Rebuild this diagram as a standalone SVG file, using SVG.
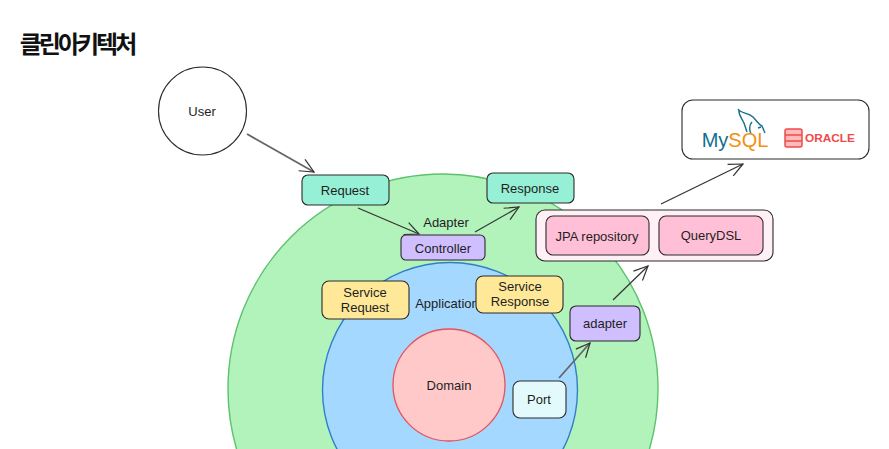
<svg xmlns="http://www.w3.org/2000/svg" width="889" height="449" viewBox="0 0 889 449">
<style>
text{font-family:"Liberation Sans",sans-serif;font-size:13px;fill:#1e1e1e;text-anchor:middle;dominant-baseline:central}
.box{stroke:#2a2a2a;stroke-width:1.1}
.teal{fill:#96f0d6}.purple{fill:#d0bfff}.yellow{fill:#ffe999}.pink{fill:#ffc0d7}
.con{fill:none;stroke:#333;stroke-width:1.2;marker-end:url(#head)}
.dbl{stroke:#666;stroke-width:1.8}
</style>
<defs>
<marker id="head" viewBox="-16 -9 18 18" refX="0" refY="0" markerWidth="18" markerHeight="18" markerUnits="userSpaceOnUse" orient="auto">
<path d="M-14-6.500 0 0-14 6.500" fill="none" stroke="#333" stroke-width="1.2"/>
</marker>
</defs>
<rect width="889" height="449" fill="#fff"/>
<text id="title" x="77" y="42" style="font-family:'Noto Sans CJK KR','Noto Sans',sans-serif;font-size:24px;font-weight:700;letter-spacing:-3px;fill:#111">클린아키텍처</text>
<g id="adapter-layer">
<circle cx="443" cy="389" r="215" fill="#b2f2bb" stroke="#5cc26e" stroke-width="1.4"/>
<text x="446" y="222">Adapter</text>
</g>
<g id="application-layer">
<circle cx="450" cy="390" r="127.500" fill="#a5d8ff" stroke="#2f80c8" stroke-width="1.4"/>
<text x="447" y="303">Application</text>
</g>
<g id="domain">
<circle cx="449" cy="385" r="56" fill="#ffc9c9" stroke="#e8515a" stroke-width="1.3"/>
<text x="449" y="385">Domain</text>
</g>
<g id="user">
<circle cx="202.500" cy="111" r="44" fill="#fff" stroke="#2a2a2a" stroke-width="1.1"/>
<text x="202" y="111">User</text>
</g>
<g id="request">
<rect class="box teal" x="302" y="175" width="87" height="30" rx="6"/>
<text x="345" y="190">Request</text>
</g>
<g id="response">
<rect class="box teal" x="487" y="173" width="87" height="30" rx="6"/>
<text x="530" y="188">Response</text>
</g>
<g id="controller">
<rect class="box purple" x="401" y="235" width="84" height="25" rx="5"/>
<text x="443" y="248">Controller</text>
</g>
<g id="service-request">
<rect class="box yellow" x="322" y="281" width="87" height="38" rx="7"/>
<text x="365" y="292">Service</text>
<text x="365" y="307.500">Request</text>
</g>
<g id="service-response">
<rect class="box yellow" x="476" y="276" width="87" height="37" rx="7"/>
<text x="520" y="286">Service</text>
<text x="520" y="301.500">Response</text>
</g>
<g id="persistence">
<rect class="box" x="536" y="210" width="237" height="51" rx="9" fill="#fff0f5"/>
</g>
<g id="jpa-repository">
<rect class="box pink" x="546" y="216" width="103" height="39" rx="7"/>
<text x="597" y="236">JPA repository</text>
</g>
<g id="querydsl">
<rect class="box pink" x="659" y="216" width="104" height="39" rx="7"/>
<text x="711" y="235">QueryDSL</text>
</g>
<g id="adapter">
<rect class="box purple" x="570" y="306" width="70" height="35" rx="6"/>
<text x="605" y="323">adapter</text>
</g>
<g id="port">
<rect class="box" x="513" y="381" width="53" height="37" rx="7" fill="#e3fafc"/>
<text x="539" y="399">Port</text>
</g>
<g id="database">
<rect class="box" x="682" y="100" width="187" height="59" rx="11" fill="#fff"/>
<path d="M738 109c3 5 10 3 15 8 4 4 5 7 9 9l3 7M739 110c-1 6 5 10 6 16l2 6M752 122c-3 3-3 7-1 12M761 127l-3 1" fill="none" stroke="#14708c" stroke-width="1.4"/>
<text x="735" y="140" style="font-family:'Liberation Sans',sans-serif;font-size:20px;fill:#0f6f8f">My<tspan fill="#f29111">SQL</tspan></text>
<g fill="none" stroke="#ee4b4b" stroke-width="1.5">
<rect x="785" y="129" width="17" height="18" rx="2" fill="#fbb"/>
<path d="M785 135h17M785 141h17"/>
</g>
<text x="830" y="138" textLength="50" lengthAdjust="spacingAndGlyphs" style="font-family:'Liberation Sans',sans-serif;font-size:11px;font-weight:700;fill:#ee4b4b">ORACLE</text>
</g>
<g id="connectors">
<path class="con dbl" d="M247 134 314 172"/>
<path class="con" d="M358 208 419 234"/>
<path class="con" d="M475 232 519 207"/>
<path class="con" d="M661 204 743 164"/>
<path class="con" d="M613 300 648 266"/>
<path class="con dbl" d="M559 378 590 343"/>
</g>
</svg>
